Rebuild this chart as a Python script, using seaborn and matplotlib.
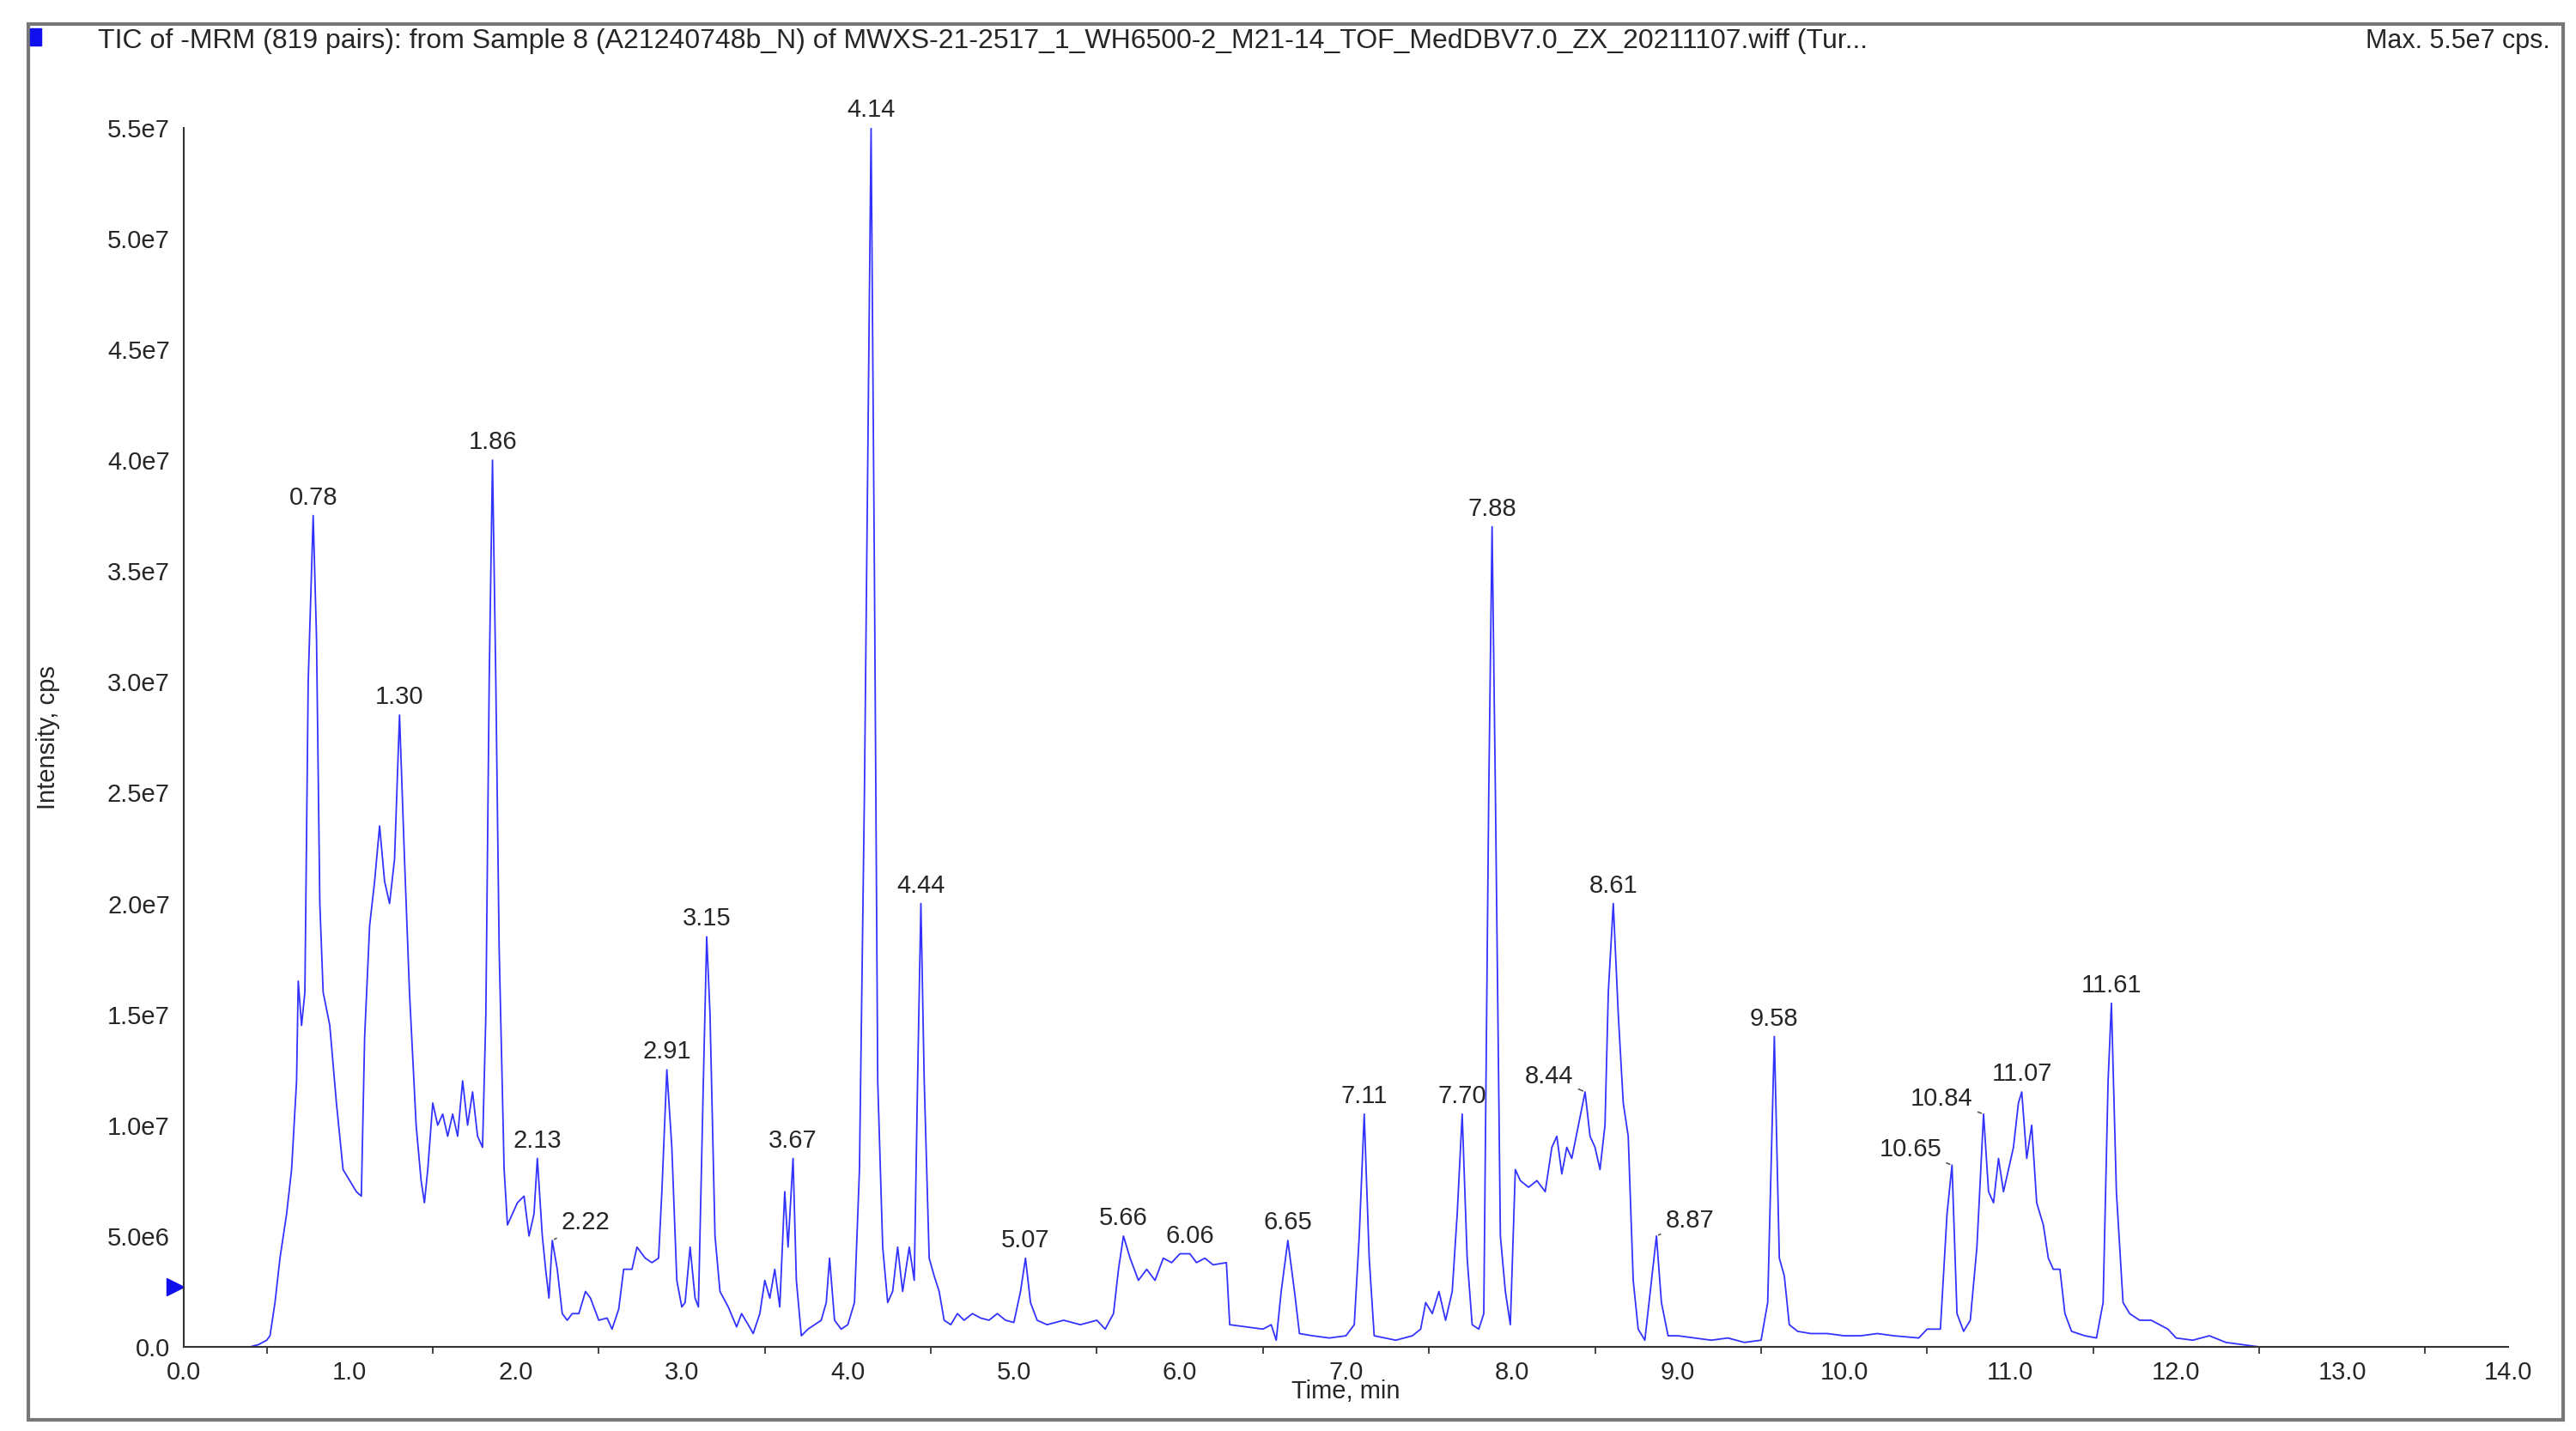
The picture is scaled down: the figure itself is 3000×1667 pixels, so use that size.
import numpy as np
import pandas as pd
import seaborn as sns
import matplotlib.pyplot as plt
from matplotlib.patches import Rectangle

# TIC trace (time in min, intensity in 1e6 cps)
time = [0.0, 0.40, 0.45, 0.50, 0.52, 0.55, 0.58, 0.62, 0.65, 0.68, 0.69, 0.71, 0.73, 0.75, 0.78, 0.80, 0.82, 0.84, 0.88,
        0.92, 0.96, 1.00, 1.04, 1.07, 1.09, 1.12, 1.15, 1.18, 1.21, 1.24, 1.27, 1.30, 1.33, 1.36, 1.40, 1.43, 1.45, 1.47,
        1.50, 1.53, 1.56, 1.59, 1.62, 1.65, 1.68, 1.71, 1.74, 1.77, 1.80, 1.82, 1.84, 1.86, 1.88, 1.90, 1.93, 1.95, 1.98,
        2.01, 2.05, 2.08, 2.11, 2.13, 2.16, 2.18, 2.20, 2.22, 2.25, 2.28, 2.31, 2.34, 2.38, 2.42, 2.45, 2.50, 2.55, 2.58,
        2.62, 2.65, 2.70, 2.73, 2.78, 2.82, 2.86, 2.88, 2.91, 2.94, 2.97, 3.00, 3.02, 3.05, 3.08, 3.10, 3.13, 3.15, 3.17,
        3.20, 3.23, 3.28, 3.33, 3.36, 3.40, 3.43, 3.47, 3.50, 3.53, 3.56, 3.59, 3.62, 3.64, 3.67, 3.69, 3.72, 3.76, 3.80,
        3.84, 3.87, 3.89, 3.92, 3.96, 4.00, 4.04, 4.07, 4.10, 4.12, 4.14, 4.16, 4.18, 4.21, 4.24, 4.27, 4.30, 4.33, 4.37,
        4.40, 4.42, 4.44, 4.46, 4.49, 4.52, 4.55, 4.58, 4.62, 4.66, 4.70, 4.75, 4.80, 4.85, 4.90, 4.95, 5.00, 5.04, 5.07,
        5.10, 5.14, 5.20, 5.30, 5.40, 5.50, 5.55, 5.60, 5.63, 5.66, 5.70, 5.75, 5.80, 5.85, 5.90, 5.95, 6.00, 6.06, 6.10,
        6.15, 6.20, 6.28, 6.30, 6.40, 6.50, 6.55, 6.58, 6.61, 6.65, 6.69, 6.72, 6.80, 6.90, 7.00, 7.05, 7.08, 7.11, 7.14,
        7.17, 7.30, 7.40, 7.45, 7.48, 7.52, 7.56, 7.60, 7.64, 7.67, 7.70, 7.73, 7.76, 7.80, 7.83, 7.86, 7.88, 7.90, 7.93,
        7.96, 7.99, 8.02, 8.05, 8.10, 8.15, 8.20, 8.24, 8.27, 8.30, 8.33, 8.36, 8.40, 8.44, 8.47, 8.50, 8.53, 8.56, 8.58,
        8.61, 8.64, 8.67, 8.70, 8.73, 8.76, 8.80, 8.84, 8.87, 8.90, 8.94, 9.00, 9.10, 9.20, 9.30, 9.40, 9.50, 9.54, 9.58,
        9.61, 9.64, 9.67, 9.72, 9.80, 9.90, 10.0, 10.1, 10.2, 10.3, 10.45, 10.50, 10.58, 10.62, 10.65, 10.68, 10.72, 10.76,
        10.80, 10.84, 10.87, 10.90, 10.93, 10.96, 10.99, 11.02, 11.05, 11.07, 11.10, 11.13, 11.16, 11.20, 11.23, 11.26,
        11.30, 11.33, 11.37, 11.45, 11.52, 11.56, 11.59, 11.61, 11.64, 11.68, 11.72, 11.78, 11.85, 11.90, 11.95, 12.0,
        12.1, 12.2, 12.3, 12.4, 12.5]
intensity = [0, 0, 0.1, 0.3, 0.5, 2.0, 4.0, 6.0, 8.0, 12.0, 16.5, 14.5, 16.0, 30, 37.5, 32, 20, 16, 14.5,
             11, 8, 7.5, 7.0, 6.8, 14, 19, 21, 23.5, 21, 20, 22, 28.5, 22, 16, 10, 7.5, 6.5, 8,
             11, 10, 10.5, 9.5, 10.5, 9.5, 12, 10, 11.5, 9.5, 9, 15, 30, 40, 30, 18, 8, 5.5, 6.0,
             6.5, 6.8, 5.0, 6.0, 8.5, 5.0, 3.5, 2.2, 4.8, 3.5, 1.5, 1.2, 1.5, 1.5, 2.5, 2.2, 1.2, 1.3, 0.8,
             1.7, 3.5, 3.5, 4.5, 4.0, 3.8, 4.0, 7.0, 12.5, 9, 3.0, 1.8, 2.0, 4.5, 2.2, 1.8, 12, 18.5, 15,
             5, 2.5, 1.8, 0.9, 1.5, 1.0, 0.6, 1.5, 3.0, 2.2, 3.5, 1.8, 7.0, 4.5, 8.5, 3.0, 0.5, 0.8, 1.0,
             1.2, 2.0, 4.0, 1.2, 0.8, 1.0, 2.0, 8, 25, 40, 55, 35, 12, 4.5, 2.0, 2.5, 4.5, 2.5, 4.5,
             3.0, 12, 20, 12, 4.0, 3.2, 2.5, 1.2, 1.0, 1.5, 1.2, 1.5, 1.3, 1.2, 1.5, 1.2, 1.1, 2.5, 4.0,
             2.0, 1.2, 1.0, 1.2, 1.0, 1.2, 0.8, 1.5, 3.5, 5.0, 4.0, 3.0, 3.5, 3.0, 4.0, 3.8, 4.2, 4.2, 3.8,
             4.0, 3.7, 3.8, 1.0, 0.9, 0.8, 1.0, 0.3, 2.5, 4.8, 2.5, 0.6, 0.5, 0.4, 0.5, 1.0, 5.0, 10.5, 4.0,
             0.5, 0.3, 0.5, 0.8, 2.0, 1.5, 2.5, 1.2, 2.5, 6.0, 10.5, 4.0, 1.0, 0.8, 1.5, 25, 37, 25, 5.0,
             2.5, 1.0, 8.0, 7.5, 7.2, 7.5, 7.0, 9.0, 9.5, 7.8, 9.0, 8.5, 10.0, 11.5, 9.5, 9.0, 8.0, 10.0, 16,
             20, 15, 11, 9.5, 3.0, 0.8, 0.3, 3.0, 5.0, 2.0, 0.5, 0.5, 0.4, 0.3, 0.4, 0.2, 0.3, 2.0, 14,
             4.0, 3.2, 1.0, 0.7, 0.6, 0.6, 0.5, 0.5, 0.6, 0.5, 0.4, 0.8, 0.8, 6.0, 8.2, 1.5, 0.7, 1.2,
             4.5, 10.5, 7.0, 6.5, 8.5, 7.0, 8.0, 9.0, 11.0, 11.5, 8.5, 10.0, 6.5, 5.5, 4.0, 3.5,
             3.5, 1.5, 0.7, 0.5, 0.4, 2.0, 12, 15.5, 7.0, 2.0, 1.5, 1.2, 1.2, 1.0, 0.8, 0.4,
             0.3, 0.5, 0.2, 0.1, 0.0]

# peak labels: retention time, apex height (1e6 cps), text offset in points
peak_rt = [0.78, 1.30, 1.86, 2.13, 2.22, 2.91, 3.15, 3.67, 4.14, 4.44, 5.07, 5.66, 6.06, 6.65, 7.11, 7.70,
           7.88, 8.44, 8.61, 8.87, 9.58, 10.65, 10.84, 11.07, 11.61]
peak_y = [37.5, 28.5, 40, 8.5, 4.8, 12.5, 18.5, 8.5, 55, 20, 4.0, 5.0, 4.2, 4.8, 10.5, 10.5,
          37, 11.5, 20, 5.0, 14, 8.2, 10.5, 11.5, 15.5]
peak_dx = [0, 0, 0, 0, 28, 0, 0, 0, 0, 0, 0, 0, 0, 0, 0, 0, 0, -30, 0, 28, 0, -35, -35, 0, 0]
peak_dy = [5, 5, 5, 5, 5, 5, 5, 5, 5, 5, 5, 5, 5, 5, 5, 5, 5, 3, 5, 3, 5, 3, 3, 5, 5]

df = pd.DataFrame({'t': time, 'i': np.array(intensity) * 1e6})

sns.set_style('white')
plt.rcParams['font.family'] = ['Liberation Sans', 'DejaVu Sans']
fs = 21

fig = plt.figure(figsize=(30, 16.67), dpi=100)
ax = fig.add_axes([0.0713, 0.0588, 0.9024, 0.852])
sns.lineplot(data=df, x='t', y='i', ax=ax, color='#3333ff', linewidth=1.3)

for rt, y, dx, dy in zip(peak_rt, peak_y, peak_dx, peak_dy):
    kw = {}
    if dx != 0:
        kw['arrowprops'] = dict(arrowstyle='-', color='#555555', lw=1.2)
    ax.annotate('%.2f' % rt, xy=(rt, y * 1e6), xytext=(dx, dy), textcoords='offset points',
                ha='center', va='bottom', fontsize=fs, **kw)

ax.set_xlim(0, 14)
ax.set_ylim(0, 5.5e7)
ax.set_xticks(np.arange(0, 14.1, 1.0))
ax.set_xticklabels(['%.1f' % v for v in np.arange(0, 14.1, 1.0)])
ax.set_xticks(np.arange(0.5, 14, 1.0), minor=True)
yt = np.arange(0, 5.6e7, 5e6)
ax.set_yticks(yt)
ax.set_yticklabels(['0.0' if v == 0 else ('%.1e' % v).replace('e+0', 'e') for v in yt])
ax.tick_params(axis='both', which='major', length=8, width=1.2, labelsize=fs, direction='out')
ax.tick_params(axis='x', which='minor', length=6, width=1.2, direction='out', bottom=True)
for s in ['top', 'right']:
    ax.spines[s].set_visible(False)
for s in ['left', 'bottom']:
    ax.spines[s].set_color('#333333')
    ax.spines[s].set_linewidth(1.5)
ax.set_xlabel('Time, min', fontsize=fs, labelpad=-4)
ax.set_ylabel('Intensity, cps', fontsize=fs)
ax.yaxis.set_label_coords(-0.053, 0.5)

# blue marker on the y axis
ax.plot([-0.05], [2.7e6], marker='>', color='#1010ee', markersize=14, clip_on=False)

# outer frame and header
fig.add_artist(Rectangle((0.011, 0.008), 0.984, 0.975, transform=fig.transFigure,
                         fill=False, edgecolor='#777777', linewidth=3))
fig.add_artist(Rectangle((0.0115, 0.9685), 0.0045, 0.012, transform=fig.transFigure,
                         color='#1010ee'))
fig.text(0.038, 0.971, 'TIC of -MRM (819 pairs): from Sample 8 (A21240748b_N) of '
         'MWXS-21-2517_1_WH6500-2_M21-14_TOF_MedDBV7.0_ZX_20211107.wiff (Tur...',
         fontsize=23, va='center', ha='left')
fig.text(0.99, 0.971, 'Max. 5.5e7 cps.', fontsize=22, va='center', ha='right')

fig.savefig('out.png', dpi=100)
